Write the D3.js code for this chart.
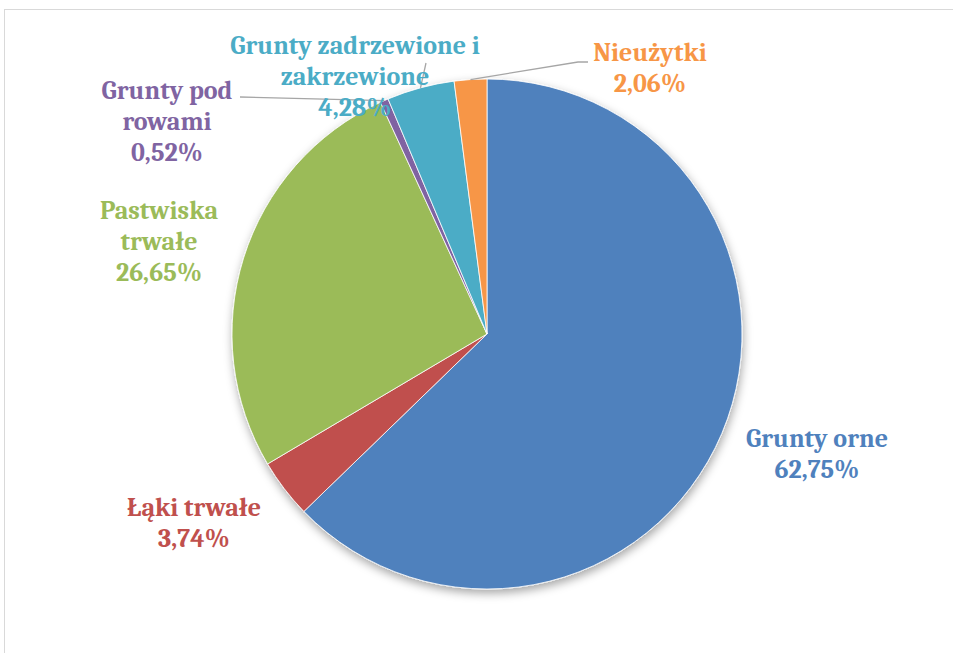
<!DOCTYPE html>
<html lang="pl">
<head>
    <meta charset="UTF-8">
    <title>Struktura użytków rolnych</title>
    <script src="https://cdn.jsdelivr.net/npm/d3@7"></script>
    <style>
        body{ margin:0; background:#fff; }
        text{ font-family: Cambria, "DejaVu Serif", serif; font-weight:bold; }
    </style>
</head>
<body>
<svg id="main" width="953" height="653"></svg>
<script>
    // data
    const categories = ['Grunty orne', 'Łąki trwałe', 'Pastwiska trwałe', 'Grunty pod rowami', 'Grunty zadrzewione i zakrzewione', 'Nieużytki'];
    const values = [62.75, 3.74, 26.65, 0.52, 4.28, 2.06];
    const valueLabels = ['62,75%', '3,74%', '26,65%', '0,52%', '4,28%', '2,06%'];
    const labelLines = [
        ['Grunty orne'],
        ['Łąki trwałe'],
        ['Pastwiska', 'trwałe'],
        ['Grunty pod', 'rowami'],
        ['Grunty zadrzewione i', 'zakrzewione'],
        ['Nieużytki']
    ];
    const colors = ['#4F81BD', '#C0504D', '#9BBB59', '#8064A2', '#4BACC6', '#F79646'];

    // label placement (center x, first line y)
    const labelPos = [[817, 447], [194, 516], [159, 219], [167, 99], [355, 54], [650, 61]];
    const lineH = 31;

    const cx = 487, cy = 334, r = 255;
    const svg = d3.select('#main');

    // frame
    svg.append('rect').attr('x', 4.5).attr('y', 9.5).attr('width', 960).attr('height', 660)
        .attr('fill', 'none').attr('stroke', '#d9d9d9');

    const defs = svg.append('defs');
    const f = defs.append('filter').attr('id', 'shadow').attr('x', '-20%').attr('y', '-20%').attr('width', '140%').attr('height', '140%');
    f.append('feDropShadow').attr('dx', 1).attr('dy', 4).attr('stdDeviation', 5)
        .attr('flood-color', '#000').attr('flood-opacity', 0.35);

    const pie = d3.pie().sort(null).value(d => d)(values);
    const arc = d3.arc().innerRadius(0).outerRadius(r);

    const g = svg.append('g').attr('transform', `translate(${cx},${cy})`);
    g.append('g').attr('filter', 'url(#shadow)')
        .selectAll('path')
        .data(pie)
        .enter()
        .append('path')
        .attr('d', arc)
        .attr('fill', (d, i) => colors[i])
        .attr('stroke', '#fff')
        .attr('stroke-width', 0.8);

    // leader lines for small top slices
    const edge = d => {
        const a = (d.startAngle + d.endAngle) / 2;
        return [cx + r * Math.sin(a), cy - r * Math.cos(a)];
    };
    const leaders = [
        [3, [[240, 97]]],
        [4, [[426, 63]]],
        [5, [[578, 62], [588, 62]]]
    ];
    leaders.forEach(([i, pts]) => {
        const p = [edge(pie[i])].concat(pts);
        svg.append('path')
            .attr('d', d3.line()(p))
            .attr('fill', 'none')
            .attr('stroke', '#a6a6a6')
            .attr('stroke-width', 1.3);
    });

    // labels
    categories.forEach((c, i) => {
        const [x, y] = labelPos[i];
        const lines = labelLines[i].concat([valueLabels[i]]);
        const t = svg.append('text')
            .attr('text-anchor', 'middle')
            .attr('fill', colors[i])
            .attr('font-size', 26);
        lines.forEach((s, k) => {
            t.append('tspan').attr('x', x).attr('y', y + k * lineH).text(s);
        });
    });
</script>
</body>
</html>
